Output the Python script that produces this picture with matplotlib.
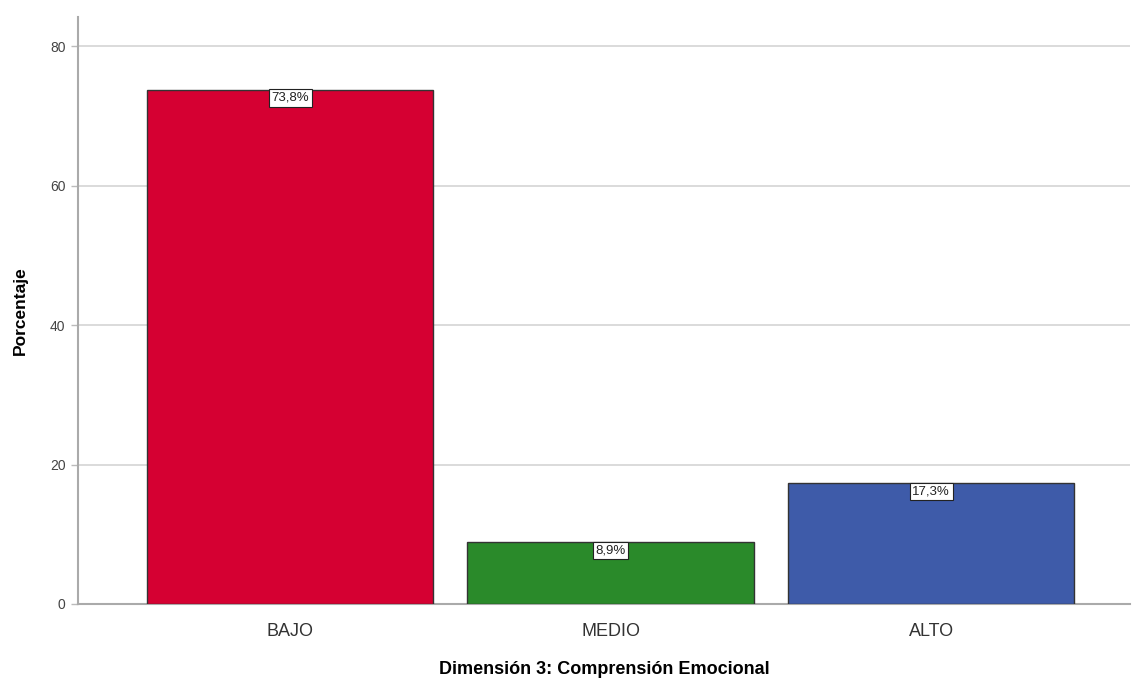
import matplotlib.pyplot as plt
import numpy as np

plt.rcParams['font.family'] = ['Liberation Sans', 'DejaVu Sans']

categorias = ["BAJO", "MEDIO", "ALTO"]
porcentajes = [73.8, 8.9, 17.3]
etiquetas = ["73,8%", "8,9%", "17,3%"]
colores = ["#D50032", "#2A8A2A", "#3E5BA9"]

fig = plt.figure(figsize=(11.37, 6.82), dpi=100)
ax = fig.add_axes([0.0686, 0.1144, 0.925, 0.8606])

x = np.arange(len(categorias))
ax.bar(x, porcentajes, 0.894, color=colores, edgecolor="#333333", linewidth=1, zorder=3)

for xi, v, t in zip(x, porcentajes, etiquetas):
    ax.text(xi, v - 0.35, t, ha="center", va="top", fontsize=9.5, color="#222222",
            bbox=dict(boxstyle="square,pad=0.2", facecolor="white", edgecolor="#222222", linewidth=0.8),
            zorder=4)

ax.set_xlim(-0.662, 2.62)
ax.set_ylim(0, 84.2)
ax.set_yticks([0, 20, 40, 60, 80])
ax.set_xticks(x)
ax.set_xticklabels(categorias)
ax.tick_params(axis="x", length=0, labelsize=13, colors="#333333", pad=14)
ax.tick_params(axis="y", length=5, width=1, color="#bbbbbb", labelsize=10, labelcolor="#444444", pad=4)
ax.grid(axis="y", color="#d4d4d4", linewidth=1.2, zorder=0)

for s in ["top", "right"]:
    ax.spines[s].set_visible(False)
for s in ["left", "bottom"]:
    ax.spines[s].set_color("#aaaaaa")
    ax.spines[s].set_linewidth(1.5)

ax.set_ylabel("Porcentaje", fontsize=12.5, fontweight="bold", labelpad=16)
ax.set_xlabel("Dimensión 3: Comprensión Emocional", fontsize=13, fontweight="bold", labelpad=15)

fig.savefig("out.png", dpi=100)
